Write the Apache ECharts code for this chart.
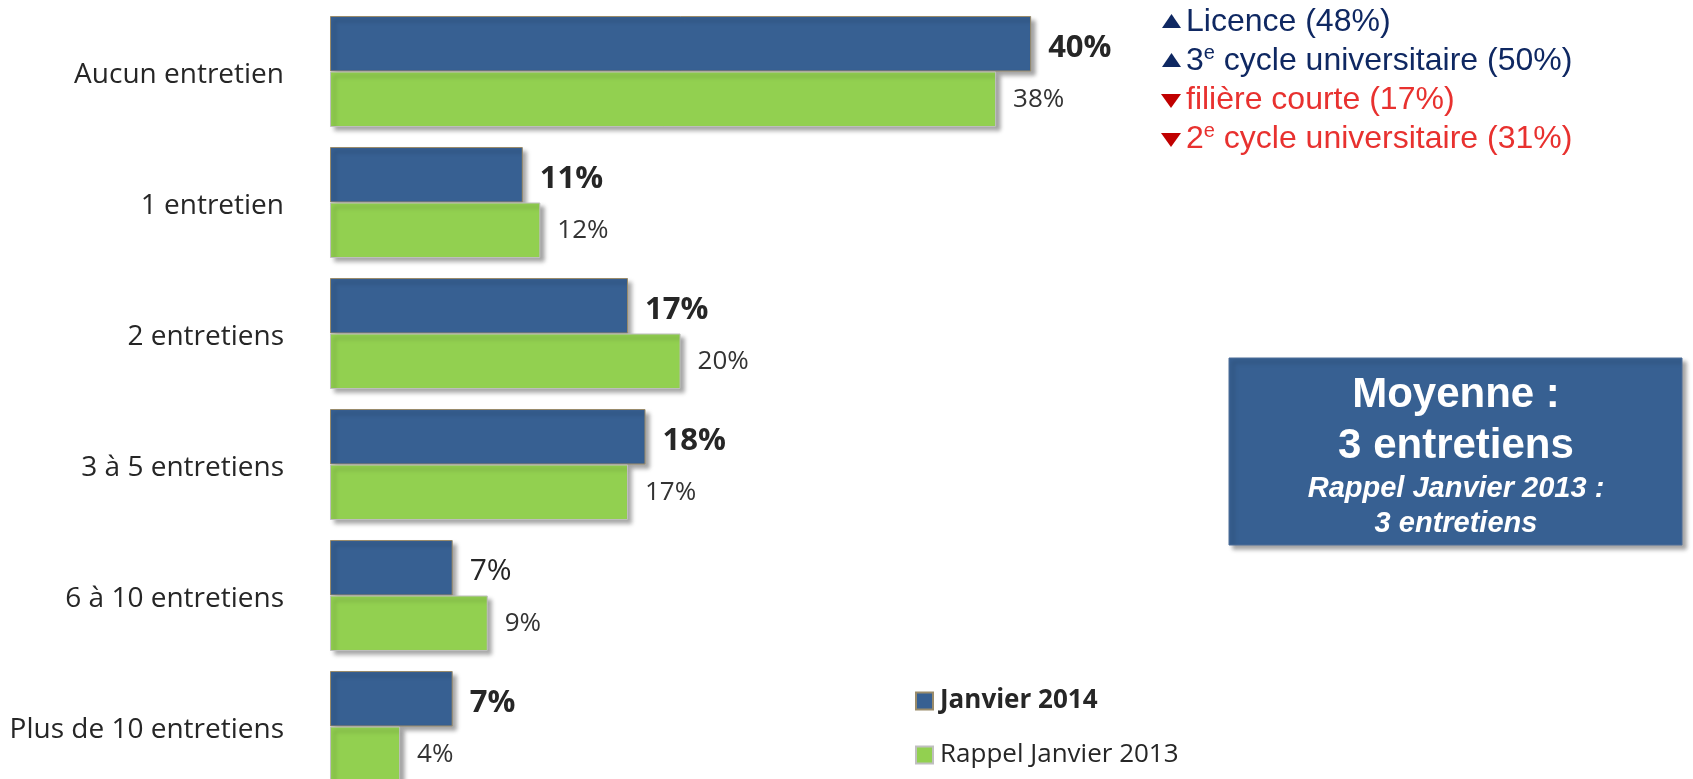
<!DOCTYPE html>
<html>
<head>
<meta charset="utf-8">
<script src="https://cdn.jsdelivr.net/npm/echarts@6/dist/echarts.min.js"></script>
<style>
html,body{margin:0;padding:0;background:#fff;overflow:hidden;}
#main{width:1693px;height:800px;}
</style>
</head>
<body>
<div id="main"></div>
<script>
const categories = ['Aucun entretien', '1 entretien', '2 entretiens', '3 à 5 entretiens', '6 à 10 entretiens', 'Plus de 10 entretiens'];
const seriesNames = ['Janvier 2014', 'Rappel Janvier 2013'];
const jan2014 = [40, 11, 17, 18, 7, 7];
const jan2013 = [38, 12, 20, 17, 9, 4];
const normalWeightIn2014 = ['6 à 10 entretiens'];
const notes = [
  { dir: 'up', pre: 'Licence (48%)', sup: '', post: '' },
  { dir: 'up', pre: '3', sup: 'e', post: ' cycle universitaire (50%)' },
  { dir: 'down', pre: 'filière courte (17%)', sup: '', post: '' },
  { dir: 'down', pre: '2', sup: 'e', post: ' cycle universitaire (31%)' }
];
const boxLines = ['Moyenne :', '3 entretiens', 'Rappel Janvier 2013 :', '3 entretiens'];

const chart = echarts.init(document.getElementById('main'));
const FONT = '"Open Sans", sans-serif';
const ARIAL = '"Liberation Sans", Arial, sans-serif';
const BLUE = '#376092', GREEN = '#92D050';
const NAVY = '#0f2862', RED = '#e8312f', DARKRED = '#c00000';

const shadow = { shadowColor: 'rgba(0,0,0,0.35)', shadowBlur: 4, shadowOffsetX: 4, shadowOffsetY: 4 };

const graphics = [];
const lineY = [22, 61, 100, 139];
notes.forEach((n, i) => {
  const cy = lineY[i];
  const col = n.dir === 'up' ? NAVY : RED;
  const triCol = n.dir === 'up' ? NAVY : DARKRED;
  const pts = n.dir === 'up'
    ? [[1162, cy + 6], [1181, cy + 6], [1171.5, cy - 8]]
    : [[1161, cy - 6], [1181, cy - 6], [1171, cy + 8]];
  graphics.push({ type: 'polygon', shape: { points: pts }, style: { fill: triCol } });
  let txt = '{n|' + n.pre + '}';
  if (n.sup) txt += '{s|' + n.sup + '}{n|' + n.post + '}';
  graphics.push({
    type: 'text', x: 1186, y: cy,
    style: {
      text: txt, align: 'left', verticalAlign: 'middle',
      rich: {
        n: { fontFamily: ARIAL, fontSize: 32, lineHeight: 35, fill: col, verticalAlign: 'middle' },
        s: { fontFamily: ARIAL, fontSize: 20, lineHeight: 20, fill: col, verticalAlign: 'top' }
      }
    }
  });
});

graphics.push({
  type: 'rect', shape: { x: 1229, y: 358, width: 453, height: 187 },
  style: Object.assign({ fill: BLUE, stroke: '#4f6f99', lineWidth: 1 }, shadow)
});
const boxStyles = [
  { y: 395, fontSize: 42, fontWeight: 'bold', fontStyle: 'normal' },
  { y: 446, fontSize: 42, fontWeight: 'bold', fontStyle: 'normal' },
  { y: 489, fontSize: 29, fontWeight: 'bold', fontStyle: 'italic' },
  { y: 524, fontSize: 29, fontWeight: 'bold', fontStyle: 'italic' }
];
boxLines.forEach((t, i) => {
  const s = boxStyles[i];
  graphics.push({
    type: 'text', x: 1456, y: s.y,
    style: { text: t, align: 'center', verticalAlign: 'middle', fill: '#ffffff',
      fontFamily: ARIAL, fontSize: s.fontSize, fontWeight: s.fontWeight, fontStyle: s.fontStyle }
  });
});

const option = {
  animation: false,
  backgroundColor: '#ffffff',
  grid: { left: 330, top: 6, width: 1227, height: 786 },
  xAxis: { type: 'value', min: 0, max: 70, show: false },
  yAxis: {
    type: 'category', data: categories, inverse: true,
    axisLine: { show: false }, axisTick: { show: false }, splitLine: { show: false },
    axisLabel: {
      margin: 46,
      formatter: v => '{c|' + v + '}',
      rich: { c: { fontFamily: FONT, fontSize: 28, color: '#262626', padding: [7, 0, 0, 0] } }
    }
  },
  legend: {
    orient: 'vertical', left: 915, top: 688, padding: 0,
    itemWidth: 17, itemHeight: 17, itemGap: 28,
    icon: 'rect',
    data: seriesNames,
    formatter: name => (name === seriesNames[0] ? '{b|' + name + '}' : '{n|' + name + '}'),
    textStyle: {
      rich: {
        b: { fontFamily: FONT, fontSize: 26, fontWeight: 'bold', color: '#262626', lineHeight: 27, padding: [0, 0, 0, 2] },
        n: { fontFamily: FONT, fontSize: 26, color: '#262626', lineHeight: 27, padding: [0, 0, 0, 2] }
      }
    }
  },
  series: [
    {
      name: seriesNames[0], type: 'bar', data: jan2014,
      barGap: '0%', barCategoryGap: '15.3%',
      itemStyle: Object.assign({ color: BLUE, borderColor: '#9a8b6a', borderWidth: 1 }, shadow),
      label: {
        show: true, position: 'right', distance: 17, padding: [8, 0, 0, 0],
        formatter: p => (normalWeightIn2014.indexOf(p.name) >= 0 ? '{n|' : '{b|') + p.value + '%}',
        rich: {
          b: { fontFamily: FONT, fontSize: 31, fontWeight: 'bold', color: '#262626' },
          n: { fontFamily: FONT, fontSize: 30, color: '#262626' }
        }
      }
    },
    {
      name: seriesNames[1], type: 'bar', data: jan2013,
      barGap: '0%', barCategoryGap: '15.3%',
      itemStyle: Object.assign({ color: GREEN, borderColor: '#bfbfbf', borderWidth: 1 }, shadow),
      label: {
        show: true, position: 'right', distance: 17, padding: [8, 0, 0, 0],
        formatter: p => p.value + '%',
        fontFamily: FONT, fontSize: 26, color: '#333333'
      }
    }
  ],
  graphic: graphics
};
chart.setOption(option);
</script>
</body>
</html>
